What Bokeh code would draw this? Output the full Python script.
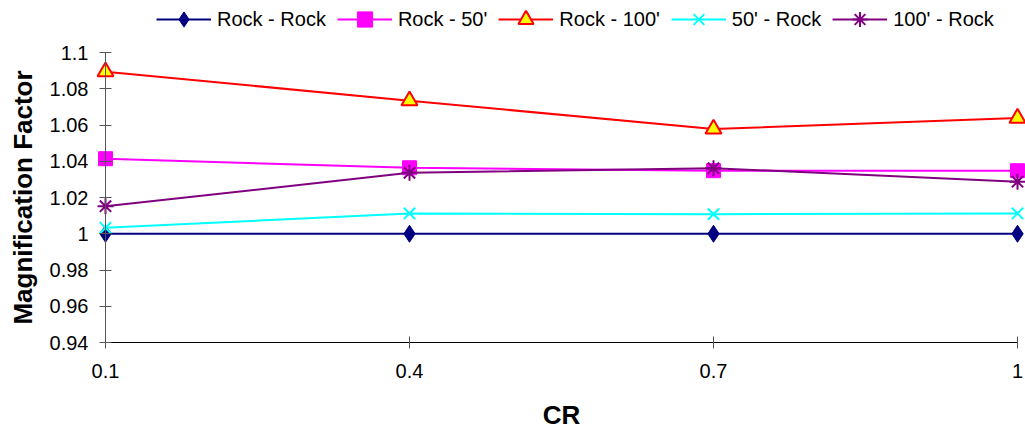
import math
from bokeh.plotting import figure
from bokeh.models import Range1d, FixedTicker, CustomJSTickFormatter, Legend, LegendItem, Label
from bokeh.embed import file_html
from bokeh.resources import INLINE

cr = [0.1, 0.4, 0.7, 1.0]
rock_rock = [1.0, 1.0, 1.0, 1.0]
rock_50 = [1.0414, 1.0364, 1.0348, 1.0348]
rock_100 = [1.0894, 1.0734, 1.0578, 1.0638]
s50_rock = [1.0033, 1.0112, 1.0108, 1.0112]
s100_rock = [1.0152, 1.0336, 1.0362, 1.0287]
y_ticks = [0.94, 0.96, 0.98, 1.0, 1.02, 1.04, 1.06, 1.08, 1.1]
x_ticks = [0.1, 0.4, 0.7, 1.0]
x_title = "CR"
y_title = "Magnification Factor"

FONT = "Liberation Sans"

# data 0.1 -> 105px, 1.0 -> 1017px ; 1.1 -> 52px, 0.94 -> 342px (frame = whole canvas)
x_ppu = 912 / 0.9
y_ppu = 290 / 0.16
x_start = 0.1 - 105 / x_ppu
x_end = 1.0 + 8 / x_ppu
y_start = 0.94 - 91 / y_ppu
y_end = 1.1 + 52 / y_ppu

p = figure(width=1025, height=433, output_backend="svg", toolbar_location=None,
           x_range=Range1d(x_start, x_end), y_range=Range1d(y_start, y_end),
           min_border_left=0, min_border_right=0, min_border_top=0, min_border_bottom=0)
p.outline_line_color = None
p.xgrid.visible = False
p.ygrid.visible = False

items = []
r1 = p.line(cr, rock_rock, line_color="#000080", line_width=2)
m1 = p.scatter(cr, rock_rock, marker="diamond", size=17, fill_color="#000080", line_color="#000080")
items.append(LegendItem(label="Rock - Rock", renderers=[r1, m1]))
r2 = p.line(cr, rock_50, line_color="#FF00FF", line_width=2)
m2 = p.scatter(cr, rock_50, marker="square", size=14, fill_color="#FF00FF", line_color="#FF00FF")
items.append(LegendItem(label="Rock - 50'", renderers=[r2, m2]))
r3 = p.line(cr, rock_100, line_color="#FF0000", line_width=2)
m3 = p.scatter(cr, rock_100, marker="triangle", size=16, fill_color="#FFFF00", line_color="#FF0000", line_width=2)
items.append(LegendItem(label="Rock - 100'", renderers=[r3, m3]))
r4 = p.line(cr, s50_rock, line_color="#00FFFF", line_width=2)
m4 = p.scatter(cr, s50_rock, marker="x", size=16, line_color="#00FFFF", line_width=2)
items.append(LegendItem(label="50' - Rock", renderers=[r4, m4]))
r5 = p.line(cr, s100_rock, line_color="#800080", line_width=2)
m5 = p.scatter(cr, s100_rock, marker="asterisk", size=16, line_color="#800080", line_width=2)
items.append(LegendItem(label="100' - Rock", renderers=[r5, m5]))

legend = Legend(items=items, orientation="horizontal", location=(156, 395),
                label_text_font=FONT, label_text_font_size="20px", label_text_color="#000000",
                glyph_width=55, glyph_height=38, spacing=11, label_standoff=6,
                border_line_color=None, background_fill_alpha=0, padding=0, margin=0)
p.add_layout(legend)

p.xaxis.ticker = FixedTicker(ticks=x_ticks)
p.yaxis.ticker = FixedTicker(ticks=y_ticks)
p.yaxis.formatter = CustomJSTickFormatter(code="return String(parseFloat(tick.toFixed(2)));")
p.xaxis.formatter = CustomJSTickFormatter(code="return String(parseFloat(tick.toFixed(2)));")
p.xaxis.bounds = (0.1, 1.0)
p.yaxis.bounds = (0.94, 1.1)
p.yaxis.fixed_location = 0.1
p.xaxis.fixed_location = 0.94

for ax in (p.xaxis[0], p.yaxis[0]):
    ax.major_label_text_font = FONT
    ax.major_label_text_font_size = "20px"
    ax.major_label_text_color = "#000000"
    ax.major_tick_in = 6
    ax.major_tick_out = 6
    ax.minor_tick_line_color = None

p.xaxis.axis_line_color = "#000000"
p.xaxis.major_tick_line_color = "#555555"
p.yaxis.axis_line_color = "#555555"
p.yaxis.major_tick_line_color = "#555555"
p.xaxis.major_label_standoff = 15
p.yaxis.major_label_standoff = 11

p.add_layout(Label(x=(0.1 + 1.0) / 2, y=0.94 - 72 / y_ppu, text=x_title,
                   text_font=FONT, text_font_size="26px", text_font_style="bold",
                   text_color="#000000", text_align="center", text_baseline="middle"))
p.add_layout(Label(x=0.1 - 83 / x_ppu, y=(0.94 + 1.1) / 2, text=y_title, angle=math.pi / 2,
                   text_font=FONT, text_font_size="26px", text_font_style="bold",
                   text_color="#000000", text_align="center", text_baseline="middle"))

open("out.html", "w").write(file_html(p, INLINE))
